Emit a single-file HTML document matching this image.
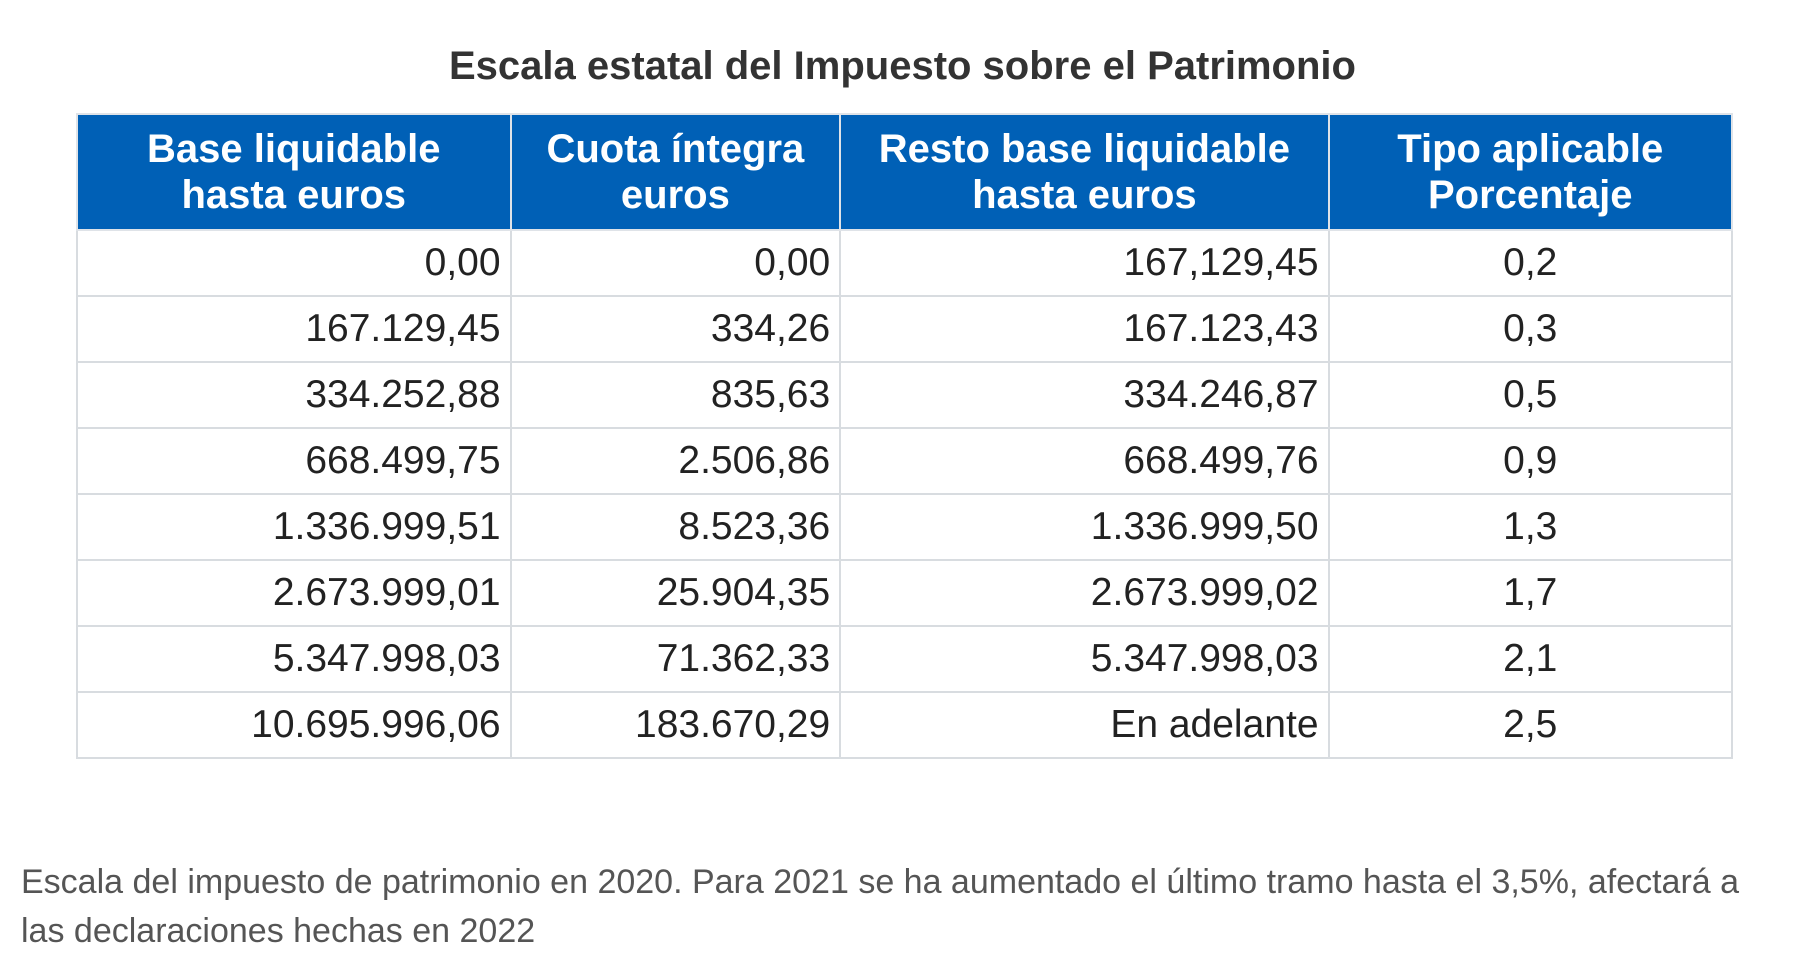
<!DOCTYPE html>
<html><head><meta charset="utf-8"><style>
body{margin:0;background:#fff;width:1805px;height:955px;overflow:hidden;font-family:"Liberation Sans",Arial,sans-serif;position:relative}
.title{position:absolute;top:44px;left:0;width:1805px;text-align:center;font-weight:bold;font-size:40px;color:#333}
table{position:absolute;left:76px;top:113px;border-collapse:collapse;width:1657px}
th{background:#0060b6;color:#fff;font-size:40px;font-weight:bold;height:114px;line-height:46px;border:2px solid #dfe3e8;padding:0}
td{font-size:39px;color:#222;height:64px;border:2px solid #d8dce0;padding:0 9px;text-align:right}
td.c{text-align:center}
.cap{position:absolute;left:21px;top:858px;width:1784px;font-size:34px;line-height:49px;color:#555}
</style></head><body>
<div class="title">Escala estatal del Impuesto sobre el Patrimonio</div>
<table>
<colgroup><col style="width:434px"><col style="width:330px"><col style="width:489px"><col style="width:404px"></colgroup>
<tr><th>Base liquidable<br>hasta euros</th><th>Cuota íntegra<br>euros</th><th>Resto base liquidable<br>hasta euros</th><th>Tipo aplicable<br>Porcentaje</th></tr>
<tr><td>0,00</td><td>0,00</td><td>167,129,45</td><td class="c">0,2</td></tr>
<tr><td>167.129,45</td><td>334,26</td><td>167.123,43</td><td class="c">0,3</td></tr>
<tr><td>334.252,88</td><td>835,63</td><td>334.246,87</td><td class="c">0,5</td></tr>
<tr><td>668.499,75</td><td>2.506,86</td><td>668.499,76</td><td class="c">0,9</td></tr>
<tr><td>1.336.999,51</td><td>8.523,36</td><td>1.336.999,50</td><td class="c">1,3</td></tr>
<tr><td>2.673.999,01</td><td>25.904,35</td><td>2.673.999,02</td><td class="c">1,7</td></tr>
<tr><td>5.347.998,03</td><td>71.362,33</td><td>5.347.998,03</td><td class="c">2,1</td></tr>
<tr><td>10.695.996,06</td><td>183.670,29</td><td>En adelante</td><td class="c">2,5</td></tr>
</table>
<div class="cap">Escala del impuesto de patrimonio en 2020. Para 2021 se ha aumentado el último tramo hasta el 3,5%, afectará a<br>las declaraciones hechas en 2022</div>
</body></html>
